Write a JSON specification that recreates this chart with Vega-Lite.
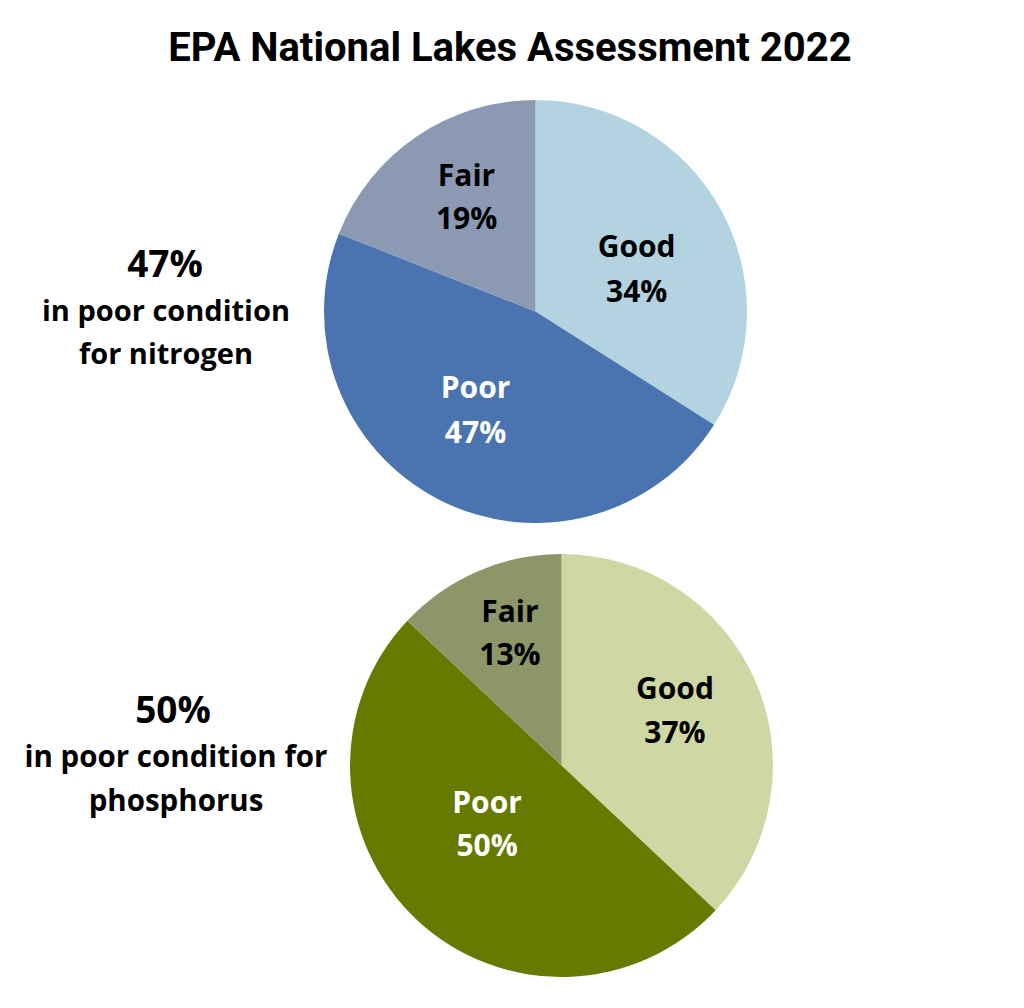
{
  "$schema": "https://vega.github.io/schema/vega-lite/v6.json",
  "background": "white",
  "padding": {"top": 29, "left": 0, "right": 0, "bottom": 0},
  "title": {
    "text": "EPA National Lakes Assessment 2022",
    "font": "Roboto",
    "fontWeight": "bold",
    "fontSize": 40,
    "color": "black",
    "anchor": "middle",
    "dx": 123.5,
    "offset": 31
  },
  "datasets": {
    "nitrogen": [
      {"condition": "Good", "percent": 34, "rank": 1, "label": "Good\n34%"},
      {"condition": "Poor", "percent": 47, "rank": 2, "label": "Poor\n47%"},
      {"condition": "Fair", "percent": 19, "rank": 3, "label": "Fair\n19%"}
    ],
    "phosphorus": [
      {"condition": "Good", "percent": 37, "rank": 1, "label": "Good\n37%"},
      {"condition": "Poor", "percent": 50, "rank": 2, "label": "Poor\n50%"},
      {"condition": "Fair", "percent": 13, "rank": 3, "label": "Fair\n13%"}
    ],
    "nitrogen_note": [{"headline": "47%", "caption": "in poor condition\nfor nitrogen"}],
    "phosphorus_note": [{"headline": "50%", "caption": "in poor condition for\nphosphorus"}]
  },
  "spacing": 31,
  "resolve": {"scale": {"color": "independent", "theta": "independent"}},
  "vconcat": [
    {
      "spacing": 0,
      "resolve": {"scale": {"color": "independent", "theta": "independent"}},
      "hconcat": [
        {
          "width": 324,
          "height": 423,
          "data": {"name": "nitrogen_note"},
          "layer": [
            {
              "mark": {"type": "text", "font": "Open Sans", "fontWeight": "bold", "fontSize": 37, "color": "black", "baseline": "middle", "align": "center", "dx": 3, "dy": -45.5},
              "encoding": {"text": {"field": "headline", "type": "nominal"}}
            },
            {
              "mark": {"type": "text", "font": "Open Sans", "fontWeight": "bold", "fontSize": 29, "color": "black", "baseline": "middle", "align": "center", "lineBreak": "\n", "lineHeight": 43, "dx": 4, "dy": 0.5},
              "encoding": {"text": {"field": "caption", "type": "nominal"}}
            }
          ]
        },
        {
          "width": 423,
          "height": 423,
          "data": {"name": "nitrogen"},
          "encoding": {
            "theta": {"field": "percent", "type": "quantitative", "stack": true},
            "order": {"field": "rank", "type": "quantitative"}
          },
          "layer": [
            {
              "mark": {"type": "arc"},
              "encoding": {
                "color": {"field": "condition", "type": "nominal", "legend": null,
                  "scale": {"domain": ["Good", "Poor", "Fair"], "range": ["#b2d3df", "#4a74b0", "#8b99b2"]}}
              }
            },
            {
              "mark": {"type": "text", "radius": 120, "dx": -4, "dy": -5.5, "font": "Open Sans", "fontWeight": "bold", "fontSize": 30, "lineBreak": "\n", "lineHeight": 45, "color": "black", "baseline": "middle", "align": "center"},
              "encoding": {"text": {"condition": {"test": "datum.condition === 'Good'", "field": "label", "type": "nominal"}, "value": ""}}
            },
            {
              "mark": {"type": "text", "radius": 120, "dx": -5.5, "dy": -29.5, "font": "Open Sans", "fontWeight": "bold", "fontSize": 30, "lineBreak": "\n", "lineHeight": 45, "color": "white", "baseline": "middle", "align": "center"},
              "encoding": {"text": {"condition": {"test": "datum.condition === 'Poor'", "field": "label", "type": "nominal"}, "value": ""}}
            },
            {
              "mark": {"type": "text", "radius": 120, "dx": -1.5, "dy": -35, "font": "Open Sans", "fontWeight": "bold", "fontSize": 30, "lineBreak": "\n", "lineHeight": 43, "color": "black", "baseline": "middle", "align": "center"},
              "encoding": {"text": {"condition": {"test": "datum.condition === 'Fair'", "field": "label", "type": "nominal"}, "value": ""}}
            }
          ]
        }
      ]
    },
    {
      "spacing": 0,
      "resolve": {"scale": {"color": "independent", "theta": "independent"}},
      "hconcat": [
        {
          "width": 350,
          "height": 423,
          "data": {"name": "phosphorus_note"},
          "layer": [
            {
              "mark": {"type": "text", "font": "Open Sans", "fontWeight": "bold", "fontSize": 37, "color": "black", "baseline": "middle", "align": "center", "dx": -2, "dy": -54},
              "encoding": {"text": {"field": "headline", "type": "nominal"}}
            },
            {
              "mark": {"type": "text", "font": "Open Sans", "fontWeight": "bold", "fontSize": 29.5, "color": "black", "baseline": "middle", "align": "center", "lineBreak": "\n", "lineHeight": 44, "dx": 1, "dy": -7.5},
              "encoding": {"text": {"field": "caption", "type": "nominal"}}
            }
          ]
        },
        {
          "width": 423,
          "height": 423,
          "data": {"name": "phosphorus"},
          "encoding": {
            "theta": {"field": "percent", "type": "quantitative", "stack": true},
            "order": {"field": "rank", "type": "quantitative"}
          },
          "layer": [
            {
              "mark": {"type": "arc"},
              "encoding": {
                "color": {"field": "condition", "type": "nominal", "legend": null,
                  "scale": {"domain": ["Good", "Poor", "Fair"], "range": ["#cfd8a4", "#667a00", "#8d9668"]}}
              }
            },
            {
              "mark": {"type": "text", "radius": 120, "dx": 3.3, "dy": -27.9, "font": "Open Sans", "fontWeight": "bold", "fontSize": 30, "lineBreak": "\n", "lineHeight": 44, "color": "black", "baseline": "middle", "align": "center"},
              "encoding": {"text": {"condition": {"test": "datum.condition === 'Good'", "field": "label", "type": "nominal"}, "value": ""}}
            },
            {
              "mark": {"type": "text", "radius": 120, "dx": 7.7, "dy": -48.5, "font": "Open Sans", "fontWeight": "bold", "fontSize": 30, "lineBreak": "\n", "lineHeight": 43, "color": "white", "baseline": "middle", "align": "center"},
              "encoding": {"text": {"condition": {"test": "datum.condition === 'Poor'", "field": "label", "type": "nominal"}, "value": ""}}
            },
            {
              "mark": {"type": "text", "radius": 120, "dx": -3.9, "dy": -42, "font": "Open Sans", "fontWeight": "bold", "fontSize": 30, "lineBreak": "\n", "lineHeight": 43, "color": "black", "baseline": "middle", "align": "center"},
              "encoding": {"text": {"condition": {"test": "datum.condition === 'Fair'", "field": "label", "type": "nominal"}, "value": ""}}
            }
          ]
        }
      ]
    }
  ],
  "config": {
    "view": {"stroke": null},
    "arc": {"stroke": null}
  }
}
